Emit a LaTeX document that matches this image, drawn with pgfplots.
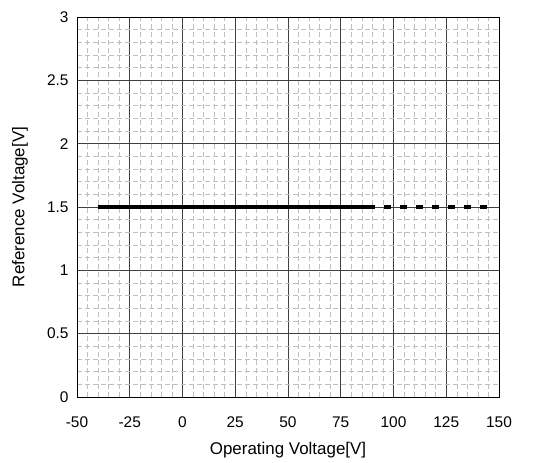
\documentclass[border=0pt]{standalone}
\usepackage{fontspec}
\setmainfont{Liberation Sans}
\usepackage{pgfplots}
\pgfplotsset{compat=1.18}
\begin{document}
\begin{tikzpicture}
\begin{axis}[
  scale only axis,
  width=422bp, height=380bp,
  xmin=-50, xmax=150, ymin=0, ymax=3,
  xtick={-50,-25,...,150},
  ytick={0,0.5,...,3},
  yticklabels={0,0.5,1,1.5,2,2.5,3},
  minor x tick num=4,
  minor y tick num=4,
  grid=both,
  major grid style={black!75, line width=0.6pt},
  minor grid style={black!25, line width=0.5pt, dash pattern=on 5bp off 3bp},
  major tick length=0pt, minor tick length=0pt,
  axis line style={black, line width=0.8pt},
  tick label style={font=\fontsize{15.5}{17}\selectfont},
  label style={font=\fontsize{17}{19}\selectfont},
  /pgf/number format/assume math mode=true,
  xticklabel style={anchor=north, yshift=-16bp},
  yticklabel style={anchor=east, xshift=-5bp},
  xlabel={Operating Voltage[V]},
  ylabel={Reference Voltage[V]},
  xlabel style={at={(axis description cs:0.5,-0.1395)}, anchor=center},
  ylabel style={at={(axis description cs:-0.135,0.5)}, anchor=center},
]
\addplot[black, line width=3.3pt] coordinates {(-40,1.5) (88,1.5)};
\addplot[black, line width=3.3pt, dash pattern=on 7bp off 9bp] coordinates {(88,1.5) (147,1.5)};
\coordinate (sw) at (rel axis cs:0,0);
\coordinate (ne) at (rel axis cs:1,1);
\end{axis}
\path ([shift={(-77bp,-66bp)}]sw) rectangle ([shift={(39bp,17bp)}]ne);
\end{tikzpicture}
\end{document}
